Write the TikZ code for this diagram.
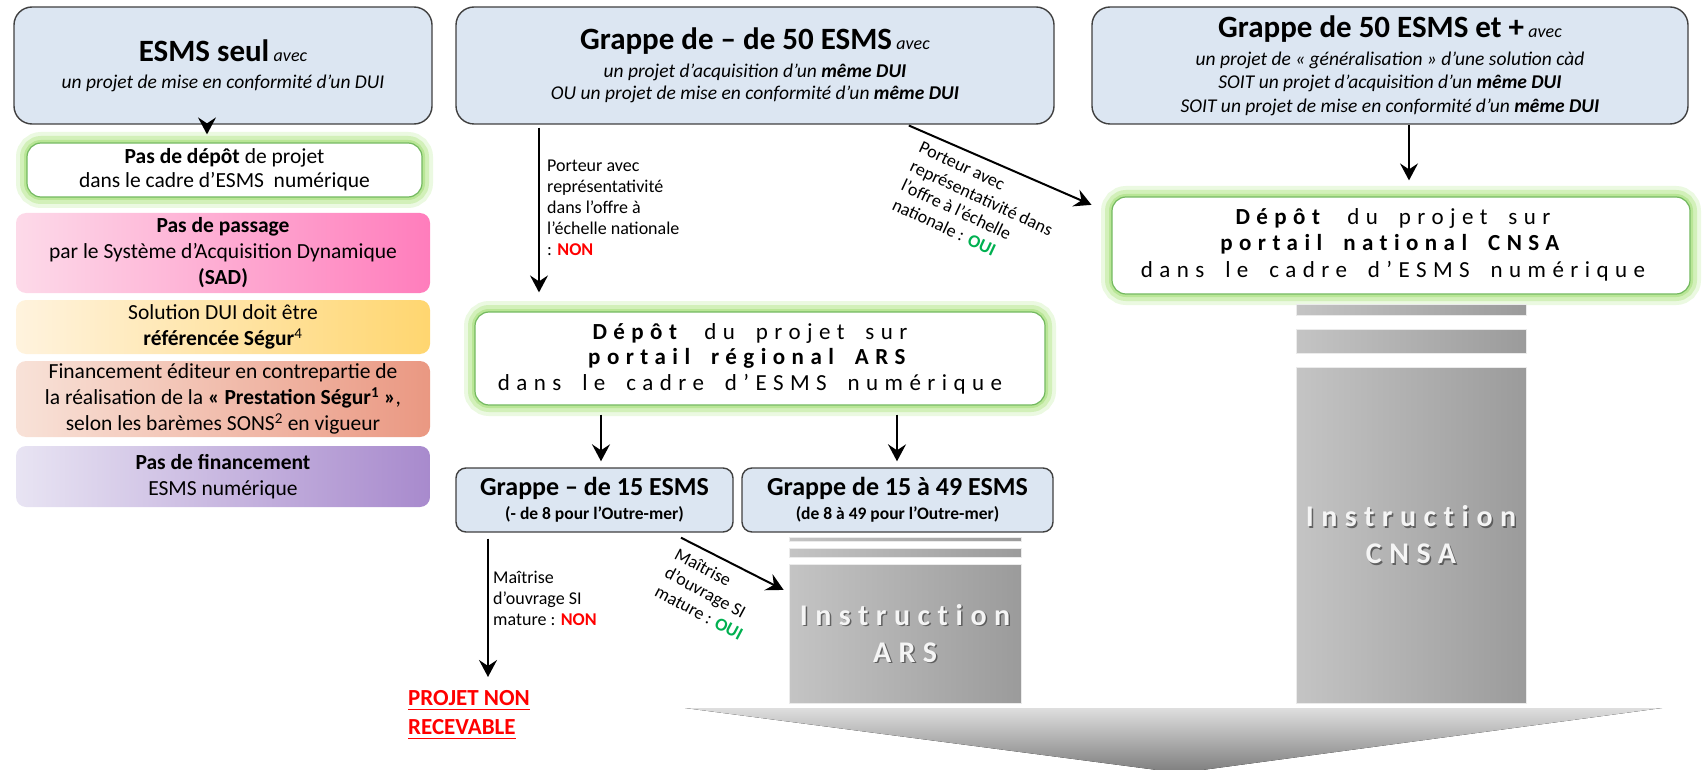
\documentclass[tikz,border=0pt]{standalone}
\usepackage{fontspec}
\setmainfont{Carlito}
\newfontfamily\spacedfont[LetterSpace=28, WordSpace=1.8, Ligatures=CommonOff]{Carlito}
\newfontfamily\instrfont[LetterSpace=25, Ligatures=CommonOff]{Carlito}
\usetikzlibrary{arrows.meta}
\newcommand\fsz[2]{\fontsize{#1}{#2}\selectfont}
\newcommand\redul[1]{\setbox0\hbox{#1}\rlap{\rule[-5pt]{\wd0}{1.6pt}}\box0}
\definecolor{blueF}{RGB}{220,230,242}
\definecolor{greenB}{RGB}{115,185,95}
\definecolor{glowA}{RGB}{185,230,150}
\definecolor{glowB}{RGB}{210,240,185}
\definecolor{glowC}{RGB}{235,249,225}
\definecolor{pinkL}{RGB}{253,218,233}
\definecolor{pinkR}{RGB}{255,125,188}
\definecolor{yelL}{RGB}{255,243,222}
\definecolor{yelR}{RGB}{255,214,112}
\definecolor{salL}{RGB}{248,226,216}
\definecolor{salR}{RGB}{234,152,130}
\definecolor{purL}{RGB}{232,228,243}
\definecolor{purR}{RGB}{168,138,205}
\definecolor{grayL}{RGB}{196,196,196}
\definecolor{grayR}{RGB}{155,155,155}
\definecolor{bigT}{RGB}{222,222,222}
\definecolor{bigB}{RGB}{125,125,125}
\definecolor{redT}{RGB}{255,0,0}
\definecolor{greenT}{RGB}{0,176,80}
\begin{document}
\begin{tikzpicture}[x=1pt,y=-1pt,
  bluebox/.style={draw=black!75, line width=1.4pt, fill=blueF, rounded corners=18pt, inner sep=0pt, align=center},
  smallblue/.style={bluebox, rounded corners=10pt},
  glowbox/.style={draw=greenB, line width=1.2pt, fill=white, rounded corners=14pt, inner sep=0pt,
     preaction={draw=glowC, line width=22pt},
     preaction={draw=glowB, line width=14pt},
     preaction={draw=glowA, line width=6pt}},
  colbox/.style={rounded corners=10pt, inner sep=0pt, align=center, minimum width=414pt, font=\fsz{21.5}{26}},
  graycol/.style={left color=grayL, right color=grayR, draw=white!92!black, line width=0.6pt, inner sep=0pt},
  instrtext/.style={align=center, font=\instrfont\bfseries\fsz{30}{37}},
  arr/.style={line width=2pt, -{Stealth[length=17pt, width=18pt, inset=6pt]}},
  lbl/.style={align=left, font=\fsz{18}{21}}
]
\useasboundingbox (0,0) rectangle (1703,770);

% ---- top blue boxes
\node[bluebox, minimum width=418pt, minimum height=117pt, font=\fsz{19.5}{27}] (esms) at (223,65.5)
  {{\fsz{31}{31}\bfseries ESMS seul} {\fsz{18}{18}\itshape avec}\\
   {\itshape un projet de mise en conformité d’un DUI}};
\node[bluebox, minimum width=598pt, minimum height=117pt, font=\fsz{19.5}{22}] (grappeA) at (755,65.5)
  {{\fsz{31}{31}\bfseries Grappe de – de 50 ESMS} {\fsz{18}{18}\itshape avec}\\[6pt]
   {\itshape un projet d’acquisition d’un \textbf{même DUI}}\\
   {\itshape OU un projet de mise en conformité d’un \textbf{même DUI}}};
\node[bluebox, minimum width=596pt, minimum height=117pt, font=\fsz{19.5}{23.5}] (grappeB) at (1390,65.5)
  {{\fsz{31}{31}\bfseries Grappe de 50 ESMS et +} {\fsz{18}{18}\itshape avec}\\[4.5pt]
   {\itshape un projet de «~généralisation~» d’une solution càd}\\
   {\itshape SOIT un projet d’acquisition d’un \textbf{même DUI}}\\
   {\itshape SOIT un projet de mise en conformité d’un \textbf{même DUI}}};

% ---- left column
\node[glowbox, align=center, minimum width=395pt, minimum height=54pt, font=\fsz{21.5}{24}] (pasdepot) at (224.5,170)
  {\textbf{Pas de dépôt} de projet\\dans le cadre d’ESMS~ numérique};
\node[colbox, left color=pinkL, right color=pinkR, minimum height=80pt] (sad) at (223,253)
  {\textbf{Pas de passage}\\par le Système d’Acquisition Dynamique\\\textbf{(SAD)}};
\node[colbox, left color=yelL, right color=yelR, minimum height=54pt] (segur) at (223,327)
  {Solution DUI doit être\\\textbf{référencée Ségur}\textsuperscript{4}};
\node[colbox, left color=salL, right color=salR, minimum height=76pt] (finance) at (223,399)
  {Financement éditeur en contrepartie de\\la réalisation de la \textbf{«~Prestation Ségur\textsuperscript{1}~»},\\selon les barèmes SONS\textsuperscript{2} en vigueur};
\node[colbox, left color=purL, right color=purR, minimum height=61pt] (nofin) at (223,476.5)
  {\textbf{Pas de financement}\\ESMS numérique};

% ---- depot boxes
\node[glowbox, minimum width=570pt, minimum height=93pt] (arsdepot) at (760,358.5) {};
\node[align=center, font=\spacedfont\fsz{23}{25.5}] (arsdepotT) at (750,358.5)
  {\textbf{Dépôt} du projet sur\\\textbf{portail régional ARS}\\dans le cadre d’ESMS numérique};
\node[glowbox, minimum width=578pt, minimum height=97pt] (cnsadepot) at (1401,245.5) {};
\node[align=center, font=\spacedfont\fsz{23}{26.5}] (cnsadepotT) at (1393,244.5)
  {\textbf{Dépôt} du projet sur\\\textbf{portail national CNSA}\\dans le cadre d’ESMS numérique};

% ---- small grappe boxes
\node[smallblue, minimum width=277pt, minimum height=64pt, font=\fsz{17.5}{24}] (gA) at (594.5,500)
  {{\fsz{26}{26}\bfseries Grappe – de 15 ESMS}\\{\bfseries (- de 8 pour l’Outre-mer)}};
\node[smallblue, minimum width=311pt, minimum height=64pt, font=\fsz{17.5}{24}] (gB) at (897.5,500)
  {{\fsz{26}{26}\bfseries Grappe de 15 à 49 ESMS}\\{\bfseries (de 8 à 49 pour l’Outre-mer)}};

% ---- instruction columns
\node[graycol, minimum width=232pt, minimum height=4pt] (arsBarA) at (905,539) {};
\node[graycol, minimum width=232pt, minimum height=9pt] (arsBarB) at (905,552.5) {};
\node[graycol, minimum width=232pt, minimum height=139pt] (arsInstr) at (905,633.5) {};
\node[instrtext, text=black!70, opacity=0.8] (arsShadow) at ([xshift=1.5pt,yshift=-1.5pt]arsInstr.center) {Instruction\\ARS};
\node[instrtext, text=white!96!black] (arsText) at (arsInstr.center) {Instruction\\ARS};

\node[graycol, minimum width=230pt, minimum height=11pt] (cnsaBarA) at (1411,309.5) {};
\node[graycol, minimum width=230pt, minimum height=24pt] (cnsaBarB) at (1411,341) {};
\node[graycol, minimum width=230pt, minimum height=336pt] (cnsaInstr) at (1411,535) {};
\node[instrtext, text=black!70, opacity=0.8] (cnsaShadow) at ([xshift=1.5pt,yshift=-1.5pt]cnsaInstr.center) {Instruction\\CNSA};
\node[instrtext, text=white!96!black] (cnsaText) at (cnsaInstr.center) {Instruction\\CNSA};

% ---- big bottom arrow
\fill[top color=bigT, bottom color=bigB] (685,708) -- (1662,708) -- (1180,773) -- cycle;

% ---- result
\node[anchor=north west, align=left, font=\bfseries\fsz{23}{29}, text=redT, inner sep=0pt] (projet) at (408,690)
  {\redul{PROJET NON}\\\redul{RECEVABLE}};

% ---- labels
\node[lbl, anchor=north west, inner sep=0pt] (lblNonA) at (547,159.5)
  {Porteur avec\\représentativité\\dans l’offre à\\l’échelle nationale\\: \textcolor{redT}{\textbf{NON}}};
\node[lbl, rotate=-25] (lblOuiA) at (977,208)
  {Porteur avec\\représentativité dans\\l’offre à l’échelle\\nationale : \textcolor{greenT}{\textbf{OUI}}};
\node[lbl, anchor=north west, inner sep=0pt] (lblNonB) at (493,570.5)
  {Maîtrise\\d’ouvrage SI\\mature : \textcolor{redT}{\textbf{NON}}};
\node[lbl, rotate=-28] (lblOuiB) at (709,594)
  {Maîtrise\\d’ouvrage SI\\mature : \textcolor{greenT}{\textbf{OUI}}};

% ---- connectors
\draw[arr, shorten >=8pt] ([xshift=-16pt]esms.south) -- ([xshift=-17.5pt]pasdepot.north);
\draw[arr, shorten <=3pt, shorten >=19pt] ([xshift=-216pt]grappeA.south) -- ([xshift=-221pt]arsdepot.north);
\draw[arr, shorten <=2pt, shorten >=21.7pt] ([xshift=152pt]grappeA.south) -- ([yshift=32pt]cnsadepot.west);
\draw[arr, shorten >=16pt] ([xshift=19pt]grappeB.south) -- ([xshift=8pt]cnsadepot.north);
\draw[arr, shorten <=9pt, shorten >=6pt] ([xshift=-159pt]arsdepot.south) -- ([xshift=6.5pt]gA.north);
\draw[arr, shorten <=9pt, shorten >=6pt] ([xshift=137pt]arsdepot.south) -- ([xshift=-0.5pt]gB.north);
\draw[arr, shorten <=6pt, shorten >=13pt] ([xshift=-106.5pt]gA.south) -- ([xshift=80pt]projet.north west);
\draw[arr, shorten >=5.7pt] ([xshift=86.5pt,yshift=-5pt]gA.south) -- ([yshift=41pt]arsInstr.west);
\end{tikzpicture}
\end{document}
